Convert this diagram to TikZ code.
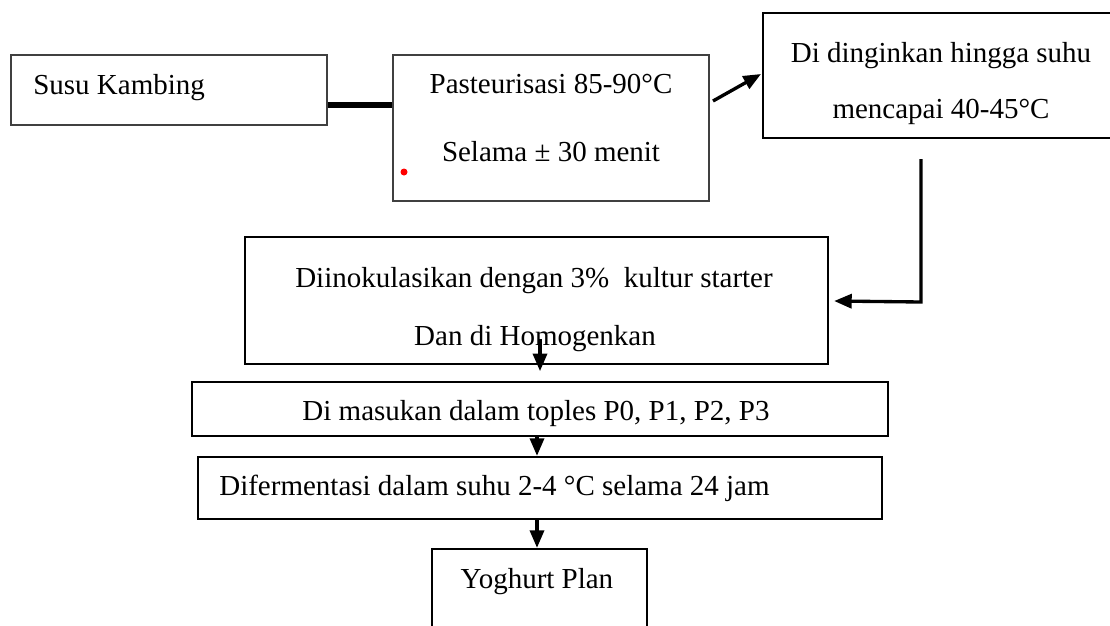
\documentclass[tikz,border=0pt]{standalone}
\usepackage{fontspec}
\setmainfont{Liberation Serif}
\usetikzlibrary{fit,arrows.meta}

\begin{document}
\begin{tikzpicture}[x=0.02cm,y=-0.02cm,
  box/.style={draw=black,line width=1.3pt,inner sep=0pt},
  thinbox/.style={draw=black!75,line width=0.9pt,inner sep=0pt},
  txt/.style={inner sep=0pt,anchor=base,font=\fontsize{16.5}{19}\selectfont},
  joint/.style={line width=3.2pt},
  arr/.style={line width=1.9pt,-{Triangle[length=10pt,width=8pt]}}]
 	\useasboundingbox (0,0) rectangle (1110,626);
 	\node[thinbox,fit={(11,55) (327,125)}] (b1) {};
 	\node[thinbox,fit={(393,55) (709,201)}] (b2) {};
 	\node[box,fit={(763,13) (1114,138)}] (b3) {};
 	\node[box,fit={(245,237) (828,364)}] (b4) {};
 	\node[box,fit={(192,382) (888,436)}] (b5) {};
 	\node[box,fit={(198,457) (882,519)}] (b6) {};
 	\node[box,fit={(432,549) (647,640)}] (b7) {};

 	\node[txt,anchor=base west] (t1) at (33,94) {Susu Kambing};
 	\node[txt] (t2a) at (551,93) {Pasteurisasi 85-90°C};
 	\node[txt] (t2b) at (551,161) {Selama ± 30 menit};
 	\node[txt] (t3a) at (941,62) {Di dinginkan hingga suhu};
 	\node[txt] (t3b) at (941,118) {mencapai 40-45°C};
 	\node[txt] (t4a) at (534,287) {Diinokulasikan dengan 3\%~ kultur starter};
 	\node[txt] (t4b) at (535,345) {Dan di Homogenkan};
 	\node[txt] (t5) at (536,420) {Di masukan dalam toples P0, P1, P2, P3};
 	\node[txt,anchor=base west] (t6) at (219,495) {Difermentasi dalam suhu 2-4 °C selama 24 jam};
 	\node[txt] (t7) at (537,588) {Yoghurt Plan};

 	\fill[red] (404,172) circle (0.07cm);

 	\coordinate (a2) at (713,101);
 	\coordinate (a3) at (761,74);
 	\coordinate (k1) at (921,159);

 	\draw[joint] (b1.east |- 0,105) -- (b2.west |- 0,105);
 	\draw[arr] (a2) -- (a3);
 	\draw[arr] (k1) -- (k1 |- 0,302) -- ([xshift=0.1cm]b4.east |- 0,301);
 	\draw[arr] (b4.south -| 540,0) ++(0,-26) -- ++(0,32);
 	\draw[arr] (b5.south -| 537,0) -- (b6.north -| 537,0);
 	\draw[arr] (b6.south -| 537,0) -- (b7.north -| 537,0);
\end{tikzpicture}
\end{document}
